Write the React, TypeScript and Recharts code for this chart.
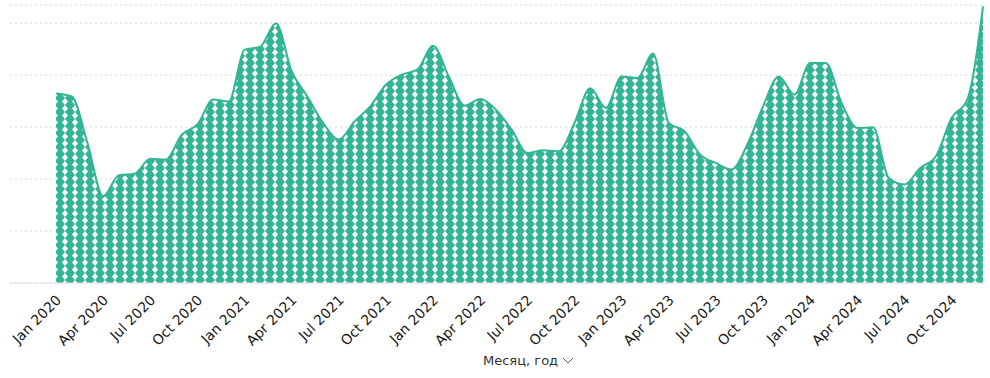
import { AreaChart, Area, XAxis, YAxis, CartesianGrid } from 'recharts';

// Monthly values, Jan 2020 .. Dec 2024
const years = ['2020', '2021', '2022', '2023', '2024'];
const monthNames = ['Jan', 'Feb', 'Mar', 'Apr', 'May', 'Jun', 'Jul', 'Aug', 'Sep', 'Oct', 'Nov', 'Dec'];

const values2020 = [72.9, 71.8, 54, 33.4, 41.5, 42.1, 47.8, 47.5, 57.1, 61, 70.6, 69.9];
const values2021 = [89.8, 91, 100, 81.5, 71.8, 61.6, 55.2, 62.2, 68, 76.3, 80.2, 82.1];
const values2022 = [91.3, 79.5, 68.3, 70.8, 66.7, 59, 50, 51.1, 50.7, 61.6, 75, 67.4];
const values2023 = [79.5, 78.9, 88.3, 61.6, 58.4, 49.4, 46.2, 43.7, 53.3, 68, 79.5, 72.5];
const values2024 = [84.7, 84.7, 69.3, 59.7, 59.9, 40.5, 37.9, 44.3, 48.8, 63.5, 70.6, 106.5];

const yTicks = [0, 20, 40, 60, 80, 100];

const allValues = [...values2020, ...values2021, ...values2022, ...values2023, ...values2024];
const data = allValues.map((value, i) => ({
  month: `${monthNames[i % 12]} ${years[Math.floor(i / 12)]}`,
  value,
}));

const TEAL = '#34b596';

const AngledTick = ({ x, y, payload }: any) => (
  <text
    x={x + 6}
    y={y + 10}
    transform={`rotate(-45, ${x + 6}, ${y + 10})`}
    textAnchor="end"
    fontSize={14}
    fill="#1a1a1a"
    fontFamily="'DejaVu Sans', Verdana, sans-serif"
  >
    {payload.value}
  </text>
);

const AxisTitle = ({ viewBox }: any) => {
  const x = 483;
  const y = viewBox.y + viewBox.height - 13;
  return (
    <g>
      <text x={x} y={y} fontSize={13} fill="#333" fontFamily="'DejaVu Sans', Verdana, sans-serif">
        Месяц, год
      </text>
      <path d={`M ${x + 80} ${y - 7} L ${x + 85} ${y - 2} L ${x + 90} ${y - 7}`} stroke="#555" fill="none" strokeWidth={1} />
    </g>
  );
};

const MonthlyAreaChart = () => {
  return (
    <div style={{ position: 'absolute', left: 0, top: 0, width: 990, height: 378, background: '#fff' }}>
      <AreaChart width={990} height={378} data={data} margin={{ top: 5, right: 5, left: 10, bottom: 0 }}>
        <defs>
          <pattern id="diamonds" width="10" height="7" patternUnits="userSpaceOnUse">
            <rect width="10" height="7" fill={TEAL} />
            <polygon points="5,0 8,3.5 5,7 2,3.5" fill="#fff" />
          </pattern>
        </defs>
        <CartesianGrid vertical={false} stroke="#d8d8d8" strokeDasharray="2 3" />
        <XAxis
          dataKey="month"
          interval={2}
          tick={<AngledTick />}
          tickLine={false}
          axisLine={{ stroke: '#e0e0e0' }}
          padding={{ left: 46, right: 2 }}
          height={95}
          label={<AxisTitle />}
        />
        <YAxis hide domain={[0, 107]} ticks={yTicks} />
        <Area
          type="monotone"
          dataKey="value"
          stroke={TEAL}
          strokeWidth={2}
          fill="url(#diamonds)"
          fillOpacity={1}
          isAnimationActive={false}
          dot={false}
          activeDot={false}
        />
      </AreaChart>
    </div>
  );
};

export default MonthlyAreaChart;
